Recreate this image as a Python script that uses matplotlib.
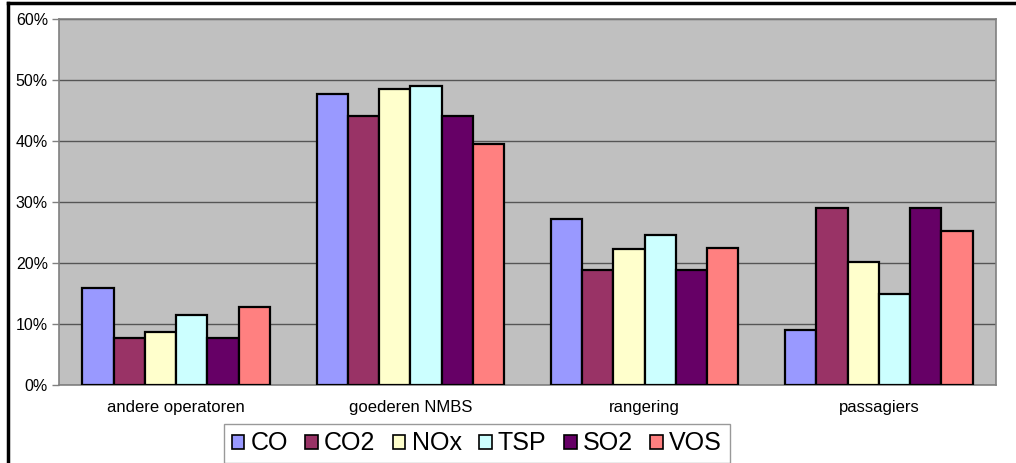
import matplotlib
matplotlib.use("Agg")
import matplotlib.pyplot as plt
from matplotlib.patches import Patch
from matplotlib.lines import Line2D
import numpy as np

plt.rcParams['font.family'] = ['Liberation Sans', 'DejaVu Sans']

categories = ["andere operatoren", "goederen NMBS", "rangering", "passagiers"]
series = ["CO", "CO2", "NOx", "TSP", "SO2", "VOS"]
CO = [15.9, 47.7, 27.2, 9.0]
CO2 = [7.7, 44.1, 18.9, 29.0]
NOx = [8.7, 48.5, 22.3, 20.2]
TSP = [11.5, 49.0, 24.6, 14.9]
SO2 = [7.7, 44.1, 18.9, 29.0]
VOS = [12.8, 39.5, 22.5, 25.2]
values = [CO, CO2, NOx, TSP, SO2, VOS]
colors = ["#9999FF", "#993366", "#FFFFCC", "#CCFFFF", "#660066", "#FF8080"]
yticks = [0, 10, 20, 30, 40, 50, 60]

fig = plt.figure(figsize=(10.16, 4.63), dpi=100)
ax = fig.add_axes([59/1016, 1-385/463, 937/1016, 366/463])
ax.set_facecolor("#C0C0C0")

n = len(series)
w = 1.0 / (n + 1.5)
x = np.arange(len(categories))
for i, (s, v, c) in enumerate(zip(series, values, colors)):
    ax.bar(x - 0.5 + 0.75 * w + i * w + w / 2, v, width=w, color=c,
           edgecolor="black", linewidth=1.6, label=s, zorder=3)

ax.set_xlim(-0.5, len(categories) - 0.5)
ax.set_ylim(0, 60)
ax.set_yticks(yticks)
ax.set_yticklabels([f"{t}%" for t in yticks], fontsize=11.5)
ax.yaxis.grid(True, color="#555555", linewidth=1.0, zorder=0)
ax.set_xticks(x)
ax.set_xticklabels(categories, fontsize=12)
ax.tick_params(axis='x', length=0, pad=11)
ax.tick_params(axis='y', length=5, width=1, color="#808080", pad=3)
for sp in ax.spines.values():
    sp.set_color("#808080")
    sp.set_linewidth(1.2)

handles = [Patch(facecolor=c, edgecolor="black", linewidth=1.2, label=s)
           for s, c in zip(series, colors)]
leg = fig.legend(handles=handles, loc="upper left",
                 bbox_to_anchor=(224/1016, 1-424/463), ncol=6, fontsize=18,
                 frameon=True, fancybox=False, edgecolor="#808080",
                 handlelength=0.5, handleheight=0.5, handletextpad=0.25,
                 columnspacing=0.7, borderpad=0.3, borderaxespad=0)
leg.get_frame().set_linewidth(1.0)

fig.add_artist(Line2D([8/1016, 8/1016], [0, 1-3/463], color="black", linewidth=2.5))
fig.add_artist(Line2D([8/1016, 1], [1-3/463, 1-3/463], color="black", linewidth=2.5))

fig.savefig("out.png", dpi=100)
